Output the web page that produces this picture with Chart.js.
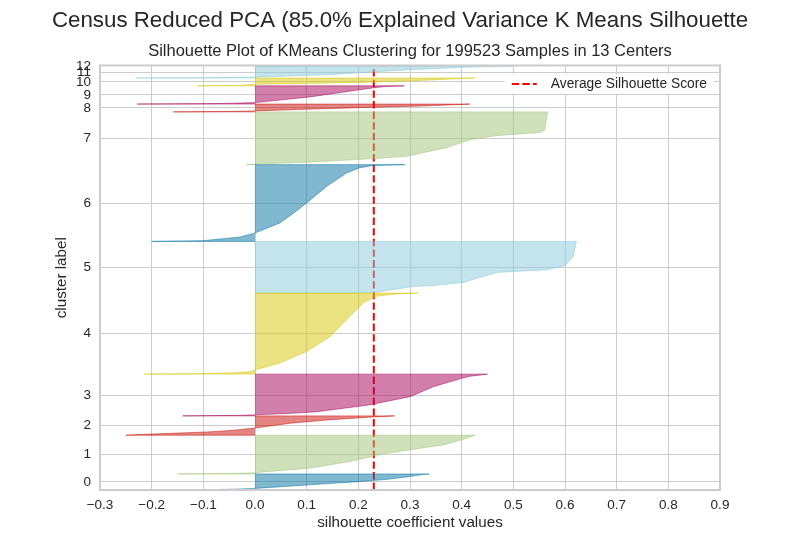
<!DOCTYPE html>
<html>
<head>
<meta charset="utf-8">
<title>Silhouette Plot</title>
<style>
  html, body { margin: 0; padding: 0; background: #ffffff; }
  #wrap { width: 800px; height: 550px; }
</style>
<script src="https://cdn.jsdelivr.net/npm/chart.js@4.4.1/dist/chart.umd.min.js"></script>
</head>
<body>
<div id="wrap"><canvas id="silhouette" width="800" height="550"></canvas></div>
<script>
// cluster ids and how many samples each one holds (bottom to top)
const clusterLabels = [0, 1, 2, 3, 4, 5, 6, 7, 8, 9, 10, 11, 12];
const clusterSizes = [7530, 18212, 9083, 19624, 38118, 24283, 36095, 24800, 3671, 8565, 3671, 5542, 329];
const avgScore = 0.23;
const xRange = [-0.3, 0.9];

// sorted silhouette values per cluster: [fraction of cluster, value]
const profile0 = [[0, -0.10], [0.03, -0.07], [0.06, -0.03], [0.1, 0.0], [0.2, 0.05], [0.31, 0.10], [0.42, 0.15], [0.52, 0.20], [0.68, 0.26], [0.84, 0.30], [0.95, 0.32], [1, 0.337]];
const profile1 = [[0, -0.15], [0.01, -0.06], [0.02, -0.02], [0.034, 0.0], [0.15, 0.106], [0.32, 0.184], [0.52, 0.248], [0.75, 0.364], [0.88, 0.40], [0.95, 0.415], [1, 0.426]];
const profile2 = [[0, -0.25], [0.05, -0.21], [0.09, -0.17], [0.17, -0.09], [0.26, -0.04], [0.37, 0.0], [0.62, 0.068], [0.79, 0.14], [0.93, 0.22], [1, 0.27]];
const profile3 = [[0, -0.14], [0.012, -0.03], [0.024, 0.0], [0.06, 0.07], [0.1, 0.12], [0.26, 0.22], [0.46, 0.30], [0.70, 0.345], [0.90, 0.40], [0.95, 0.416], [1, 0.45]];
const profile4 = [[0, -0.215], [0.005, -0.12], [0.015, -0.05], [0.03, -0.01], [0.06, 0.005], [0.136, 0.048], [0.28, 0.10], [0.46, 0.145], [0.67, 0.177], [0.88, 0.21], [0.96, 0.235], [0.99, 0.274], [1, 0.316]];
const profile5 = [[0, 0.20], [0.012, 0.232], [0.128, 0.306], [0.14, 0.339], [0.205, 0.403], [0.32, 0.442], [0.40, 0.468], [0.45, 0.565], [0.53, 0.60], [0.71, 0.616], [1, 0.622]];
const profile6 = [[0, -0.2], [0.01, -0.1], [0.057, -0.029], [0.11, 0.0], [0.24, 0.048], [0.37, 0.075], [0.50, 0.10], [0.72, 0.139], [0.89, 0.177], [0.96, 0.203], [0.99, 0.229], [1, 0.29]];
const profile7 = [[0, -0.017], [0.01, 0.0], [0.044, 0.10], [0.12, 0.24], [0.16, 0.294], [0.32, 0.37], [0.47, 0.416], [0.55, 0.468], [0.61, 0.552], [0.66, 0.561], [1, 0.566]];
const profile8 = [[0, -0.158], [0.05, -0.05], [0.12, 0.0], [0.3, 0.08], [0.54, 0.2], [0.75, 0.32], [0.95, 0.40], [1, 0.416]];
const profile9 = [[0, -0.228], [0.01, -0.15], [0.03, -0.06], [0.08, 0.0], [0.39, 0.106], [0.89, 0.229], [0.96, 0.25], [1, 0.289]];
const profile10 = [[0, -0.112], [0.05, -0.03], [0.2, 0.0], [0.42, 0.2], [0.72, 0.33], [0.9, 0.39], [1, 0.426]];
const profile11 = [[0, -0.23], [0.02, -0.12], [0.05, -0.04], [0.07, 0.0], [0.3, 0.15], [0.55, 0.24], [0.76, 0.33], [0.93, 0.42], [1, 0.5]];
const profile12 = [[0, 0.0], [0.5, 0.3], [1, 0.6]];
const profiles = [profile0, profile1, profile2, profile3, profile4, profile5, profile6,
  profile7, profile8, profile9, profile10, profile11, profile12];

const palette = ["#0272a2", "#9fc377", "#ca0b03", "#a50258", "#d7c703", "#88cada"];
const FONT = '"Liberation Sans", Arial, Helvetica, sans-serif';
const TEXT = "#262626";
const GRID = "#cccccc";

function fade(hex, alpha) {
  const n = parseInt(hex.slice(1), 16);
  return `rgba(${(n >> 16) & 255}, ${(n >> 8) & 255}, ${n & 255}, ${alpha})`;
}

// stack the clusters with a 10 sample gap, like yellowbrick does
const gap = 10;
const tickPositions = [];
let yLower = gap;
const clusterSets = clusterLabels.map((label, i) => {
  const size = clusterSizes[i];
  const color = fade(palette[i % palette.length], 0.5);
  const points = [{ x: 0, y: yLower }];
  profiles[i].forEach(([q, v]) => points.push({ x: v, y: yLower + q * size }));
  points.push({ x: 0, y: yLower + size });
  tickPositions.push(yLower + size / 2);
  yLower += size + gap;
  return {
    label: "cluster " + label,
    data: points,
    showLine: true,
    fill: "shape",
    backgroundColor: color,
    borderColor: color,
    borderWidth: 1,
    borderJoinStyle: "round",
    pointRadius: 0,
    pointHoverRadius: 0,
  };
});
const yMax = clusterSizes.reduce((a, b) => a + b, 0) + (clusterLabels.length + 1) * gap;

const avgSet = {
  label: "Average Silhouette Score",
  data: [{ x: avgScore, y: 0 }, { x: avgScore, y: yMax }],
  showLine: true,
  fill: false,
  borderColor: "#ff0000",
  borderWidth: 2,
  borderDash: [7.4, 3.2],
  pointRadius: 0,
  pointHoverRadius: 0,
};

// light grey box round the plot area, drawn over the fills
const framePlugin = {
  id: "frame",
  afterDatasetsDraw(chart) {
    const { ctx, chartArea: a } = chart;
    ctx.save();
    ctx.strokeStyle = GRID;
    ctx.lineWidth = 2;
    ctx.strokeRect(a.left, a.top, a.right - a.left, a.bottom - a.top);
    ctx.restore();
  },
};

// legend for the average line, inside the upper right corner
const avgLegendPlugin = {
  id: "avgLegend",
  afterDatasetsDraw(chart) {
    const { ctx, chartArea: a } = chart;
    const ds = chart.data.datasets[chart.data.datasets.length - 1];
    const right = a.right - 13;
    const cy = a.top + 18.5;
    ctx.save();
    ctx.font = `13.8px ${FONT}`;
    const textW = ctx.measureText(ds.label).width;
    const textX = right - textW;
    const lineX = textX - 39;
    ctx.fillStyle = "#ffffff";
    ctx.fillRect(lineX - 7, cy - 10, right - lineX + 14, 20);
    ctx.strokeStyle = ds.borderColor;
    ctx.lineWidth = ds.borderWidth;
    ctx.setLineDash(ds.borderDash);
    ctx.beginPath();
    ctx.moveTo(lineX, cy);
    ctx.lineTo(lineX + 25, cy);
    ctx.stroke();
    ctx.setLineDash([]);
    ctx.fillStyle = TEXT;
    ctx.textBaseline = "middle";
    ctx.fillText(ds.label, textX, cy);
    ctx.restore();
  },
};

new Chart(document.getElementById("silhouette"), {
  type: "scatter",
  data: { datasets: [...clusterSets, avgSet] },
  options: {
    responsive: false,
    devicePixelRatio: 1,
    animation: false,
    events: [],
    layout: { padding: 0 },
    scales: {
      x: {
        type: "linear",
        min: xRange[0],
        max: xRange[1],
        afterFit(scale) { scale.height = 60; },
        ticks: {
          stepSize: 0.1,
          maxRotation: 0,
          padding: 7,
          color: TEXT,
          font: { family: FONT, size: 13.5 },
          callback: (v) => (Math.abs(v) < 1e-9 ? 0 : v).toFixed(1).replace("-", "\u2212"),
        },
        grid: { color: GRID, lineWidth: 1, drawTicks: false },
        border: { display: false },
        title: {
          display: true,
          text: "silhouette coefficient values",
          color: TEXT,
          font: { family: FONT, size: 15.2 },
          padding: { top: 0, bottom: 18 },
        },
      },
      y: {
        type: "linear",
        min: 0,
        max: yMax,
        afterFit(scale) { scale.width = 100; },
        afterBuildTicks(scale) {
          scale.ticks = tickPositions.map((v) => ({ value: v }));
        },
        ticks: {
          autoSkip: false,
          padding: 9,
          color: TEXT,
          font: { family: FONT, size: 13.5 },
          callback: (v, i) => String(clusterLabels[i]),
        },
        grid: { color: GRID, lineWidth: 1, drawTicks: false },
        border: { display: false },
        title: {
          display: true,
          text: "cluster label",
          color: TEXT,
          font: { family: FONT, size: 15.2 },
          padding: { top: 53, bottom: 0 },
        },
      },
      // empty right margin, so the main title centres on the whole page
      margin: {
        type: "linear",
        position: "right",
        display: true,
        afterFit(scale) { scale.width = 80; },
        ticks: { display: false },
        grid: { display: false, drawOnChartArea: false },
        border: { display: false },
      },
    },
    plugins: {
      legend: { display: false },
      tooltip: { enabled: false },
      title: {
        display: true,
        text: "Census Reduced PCA (85.0% Explained Variance K Means Silhouette",
        color: TEXT,
        font: { family: FONT, size: 22.3, weight: "normal" },
        padding: { top: 7, bottom: 4 },
      },
      subtitle: {
        display: true,
        fullSize: false,
        text: "Silhouette Plot of KMeans Clustering for 199523 Samples in 13 Centers",
        color: TEXT,
        font: { family: FONT, size: 16.5, weight: "normal" },
        padding: { top: 3.8, bottom: 4.1 },
      },
    },
  },
  plugins: [framePlugin, avgLegendPlugin],
});
</script>
</body>
</html>
